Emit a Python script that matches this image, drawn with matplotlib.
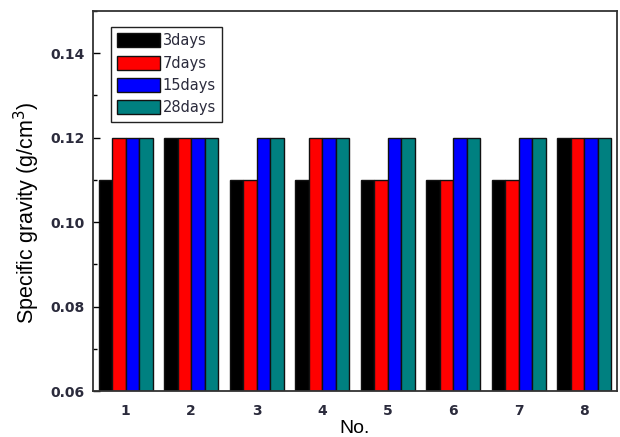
import numpy as np
import matplotlib
matplotlib.use('Agg')
import matplotlib.pyplot as plt
from matplotlib.ticker import MultipleLocator, FormatStrFormatter

plt.rcParams['font.family'] = ['Liberation Sans', 'DejaVu Sans']

# specific gravity of each sample at different curing ages
samples = ['1', '2', '3', '4', '5', '6', '7', '8']
ages = ['3days', '7days', '15days', '28days']
d3 = [0.11, 0.12, 0.11, 0.11, 0.11, 0.11, 0.11, 0.12]
d7 = [0.12, 0.12, 0.11, 0.12, 0.11, 0.11, 0.11, 0.12]
d15 = [0.12, 0.12, 0.12, 0.12, 0.12, 0.12, 0.12, 0.12]
d28 = [0.12, 0.12, 0.12, 0.12, 0.12, 0.12, 0.12, 0.12]
colors = ['#000000', '#ff0000', '#0000ff', '#008080']

fig = plt.figure(figsize=(6.2, 4.37), dpi=100)
ax = fig.add_axes([0.15, 0.105, 0.845, 0.87])

x = np.arange(1, len(samples) + 1)
w = 0.205
base = 0.06
for i, (vals, lab, c) in enumerate(zip([d3, d7, d15, d28], ages, colors)):
    heights = np.array(vals) - base
    ax.bar(x + (i - 1.5) * w, heights, w, bottom=base, color=c,
           edgecolor='#111111', linewidth=1.0, label=lab)

ax.set_xlim(0.5, 8.5)
ax.set_ylim(0.06, 0.15)
ax.set_xticks(x)
ax.set_xticklabels(samples)
ax.yaxis.set_major_locator(MultipleLocator(0.02))
ax.yaxis.set_minor_locator(MultipleLocator(0.01))
ax.yaxis.set_major_formatter(FormatStrFormatter('%.2f'))

tick_col = '#2b2b3c'
ax.tick_params(axis='y', which='major', direction='in', length=5, width=1,
               labelcolor=tick_col, pad=6)
ax.tick_params(axis='y', which='minor', direction='in', length=3, width=1)
ax.tick_params(axis='x', length=0, labelcolor=tick_col, pad=9)
for lbl in ax.get_xticklabels() + ax.get_yticklabels():
    lbl.set_fontfamily('DejaVu Sans')
    lbl.set_fontweight('bold')
    lbl.set_fontsize(10)

for s in ax.spines.values():
    s.set_color('#333333')
    s.set_linewidth(1.3)

ax.set_ylabel('Specific gravity (g/cm$^3$)', fontsize=15.5)
ax.yaxis.set_label_coords(-0.097, 0.47)
ax.set_xlabel('No.', fontsize=14, labelpad=2)

leg = ax.legend(loc='upper left', bbox_to_anchor=(0.034, 0.958),
                prop={'family': 'DejaVu Sans', 'size': 10.5},
                handlelength=2.9, handleheight=1.1, handletextpad=0.2,
                labelspacing=0.5, borderpad=0.45, borderaxespad=0,
                fancybox=False, framealpha=1)
leg.get_frame().set_edgecolor('#222222')
leg.get_frame().set_linewidth(1.0)
for t in leg.get_texts():
    t.set_color(tick_col)

fig.savefig('out.png', dpi=100)
